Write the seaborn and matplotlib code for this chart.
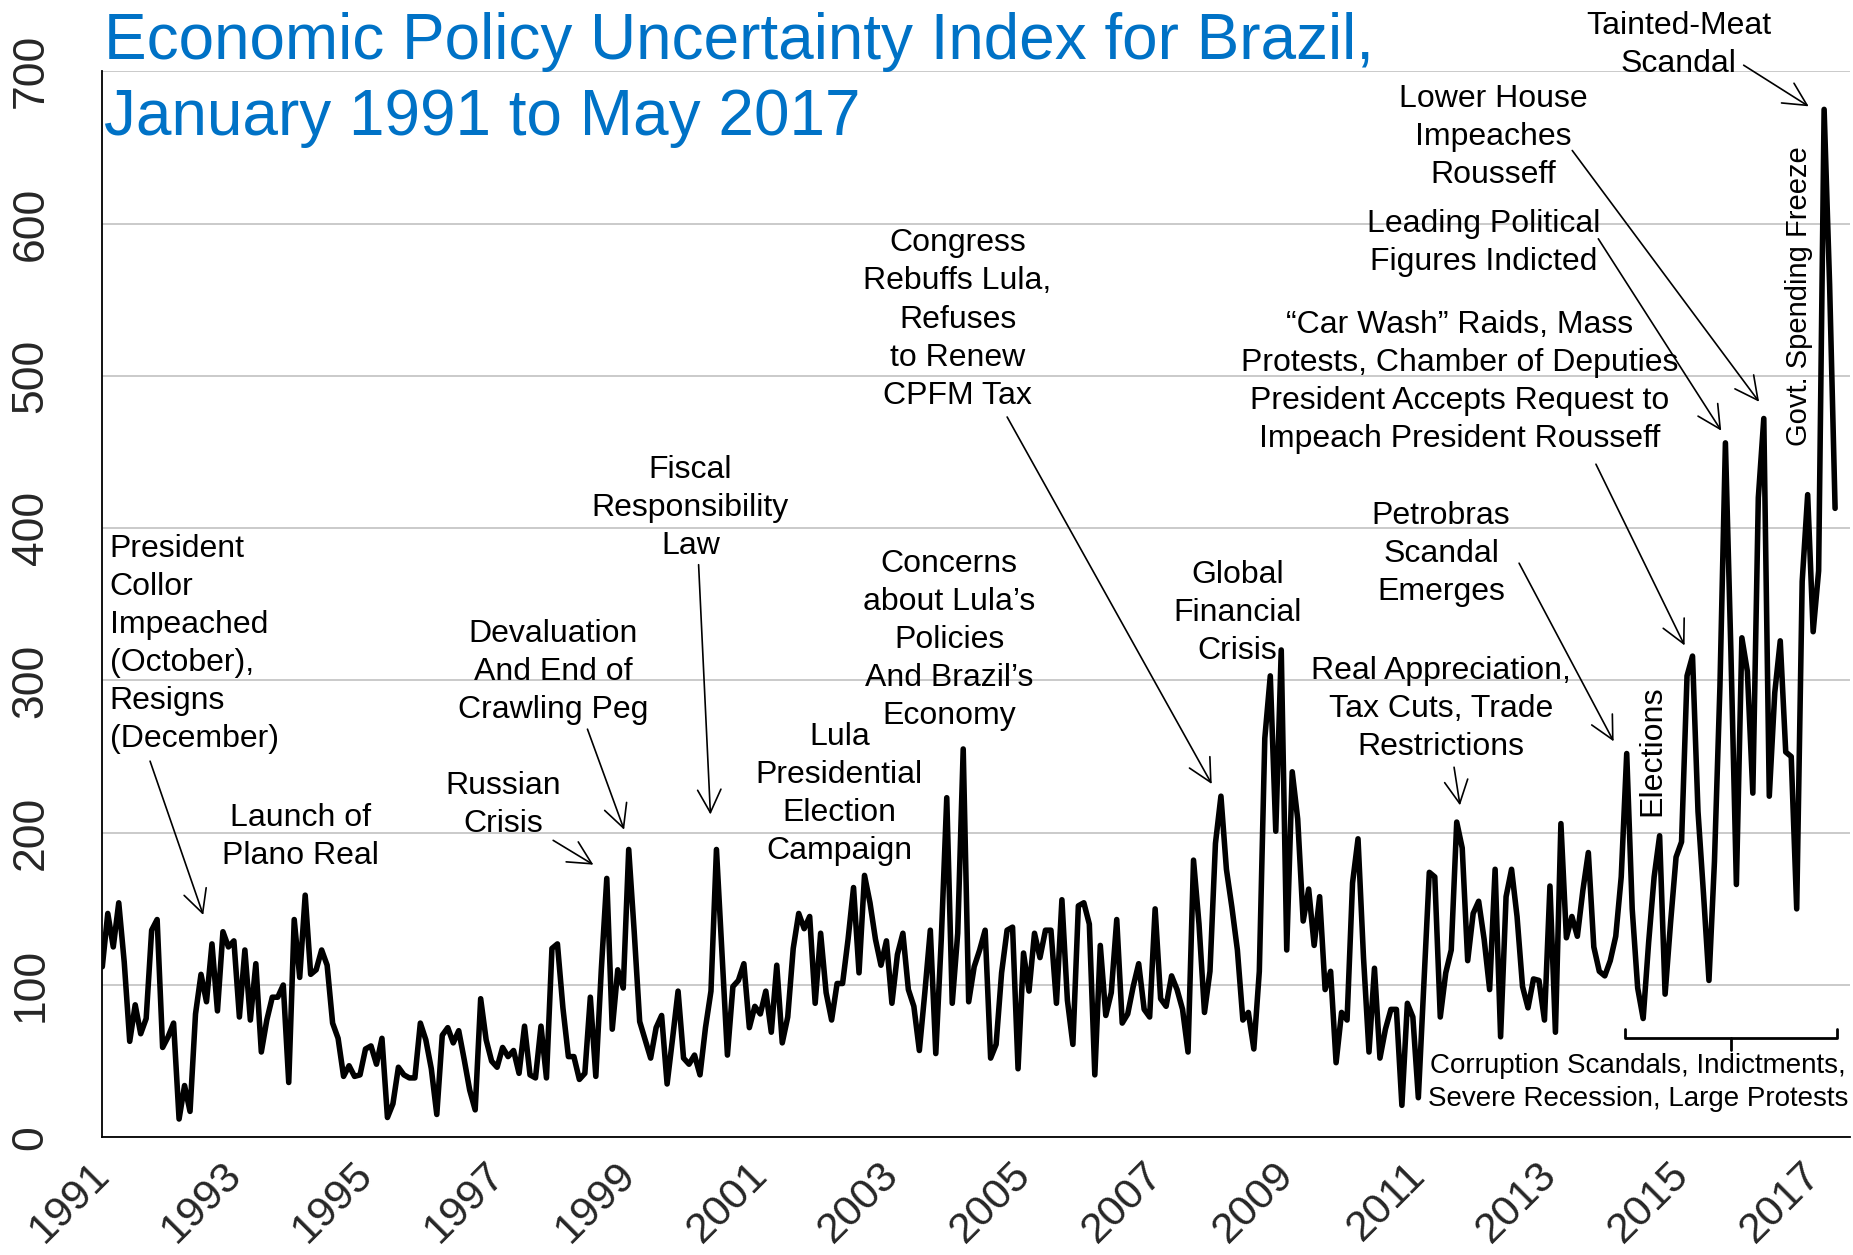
import numpy as np
import pandas as pd
import matplotlib
matplotlib.use("Agg")
import matplotlib.pyplot as plt
import seaborn as sns
from matplotlib import font_manager
from matplotlib.transforms import ScaledTranslation

# ---------------- data (monthly EPU index, Jan 1991 - May 2017) ----------------
v1991 = [112, 147, 125, 154, 115, 63, 87, 68, 78, 136, 143, 59]
v1992 = [66, 75, 12, 34, 17, 81, 107, 89, 127, 83, 135, 125]
v1993 = [129, 79, 123, 77, 114, 56, 77, 92, 92, 100, 36, 143]
v1994 = [105, 159, 107, 110, 123, 113, 75, 65, 40, 47, 40, 41]
v1995 = [58, 60, 48, 65, 13, 22, 46, 41, 39, 39, 75, 64]
v1996 = [45, 15, 67, 72, 62, 70, 51, 31, 18, 91, 64, 50]
v1997 = [46, 59, 53, 57, 42, 73, 41, 39, 73, 39, 124, 127]
v1998 = [85, 53, 53, 38, 42, 92, 40, 110, 170, 71, 110, 98]
v1999 = [189, 135, 76, 64, 52, 72, 80, 35, 65, 96, 52, 48]
v2000 = [54, 41, 72, 96, 189, 121, 54, 99, 103, 114, 72, 86]
v2001 = [81, 96, 69, 113, 62, 79, 124, 147, 137, 145, 88, 134]
v2002 = [95, 77, 101, 101, 130, 164, 108, 172, 154, 130, 113, 129]
v2003 = [88, 120, 134, 97, 86, 57, 95, 136, 55, 130, 223, 88]
v2004 = [134, 255, 89, 112, 123, 136, 52, 61, 108, 136, 138, 45]
v2005 = [121, 96, 134, 118, 136, 136, 88, 156, 90, 61, 152, 154]
v2006 = [140, 41, 126, 80, 95, 143, 75, 81, 99, 114, 84, 79]
v2007 = [150, 91, 86, 106, 97, 84, 56, 182, 140, 82, 109, 193]
v2008 = [224, 176, 151, 123, 77, 82, 58, 109, 262, 303, 201, 320]
v2009 = [123, 240, 209, 142, 163, 126, 158, 97, 109, 49, 82, 77]
v2010 = [167, 196, 118, 56, 111, 52, 71, 84, 84, 21, 88, 79]
v2011 = [26, 100, 174, 171, 79, 108, 123, 207, 190, 116, 147, 155]
v2012 = [130, 97, 176, 66, 158, 176, 145, 99, 85, 104, 103, 77]
v2013 = [165, 69, 206, 131, 145, 132, 162, 187, 125, 109, 106, 116]
v2014 = [132, 171, 252, 150, 98, 78, 128, 171, 198, 94, 141, 184]
v2015 = [194, 303, 316, 214, 160, 103, 181, 296, 456, 319, 166, 328]
v2016 = [306, 226, 420, 472, 224, 292, 326, 253, 250, 150, 365, 422]
v2017 = [332, 372, 675, 560, 413]

tick_years = [1991, 1993, 1995, 1997, 1999, 2001, 2003, 2005, 2007,
              2009, 2011, 2013, 2015, 2017]
y_ticks = [0, 100, 200, 300, 400, 500, 600, 700]

title_line1 = "Economic Policy Uncertainty Index for Brazil,"
title_line2 = "January 1991 to May 2017"

# ---------------- build table ----------------
values = (v1991 + v1992 + v1993 + v1994 + v1995 + v1996 + v1997 + v1998 +
          v1999 + v2000 + v2001 + v2002 + v2003 + v2004 + v2005 + v2006 +
          v2007 + v2008 + v2009 + v2010 + v2011 + v2012 + v2013 + v2014 +
          v2015 + v2016 + v2017)
df = pd.DataFrame({"date": 1991 + np.arange(len(values)) / 12.0,
                   "epu": values})

# ---------------- style ----------------
sns.set_style("white")
plt.rcParams["font.family"] = ["Liberation Sans", "DejaVu Sans"]
installed = {f.name for f in font_manager.fontManager.ttflist}
if "Liberation Sans Narrow" in installed:
    narrow_family = ["Liberation Sans Narrow", "Liberation Sans", "DejaVu Sans"]
    narrow_size = 25
else:
    narrow_family = ["Liberation Sans", "DejaVu Sans"]
    narrow_size = 21

W, H = 1853, 1255
fig = plt.figure(figsize=(W / 100, H / 100), dpi=100)
ax = fig.add_axes([102.3 / W, (H - 1137.3) / H, (1850 - 102.3) / W, (1137.3 - 71.3) / H])

sns.lineplot(data=df, x="date", y="epu", color="black", linewidth=4.0, ax=ax,
             zorder=3)

ax.set_xlim(1991, 2017.56)
ax.set_ylim(0, 700)
ax.set_xlabel("")
ax.set_ylabel("")

ax.set_xticks(tick_years)
ax.set_xticklabels([str(y) for y in tick_years], rotation=45, ha="right",
                   va="top", rotation_mode="anchor", fontsize=31)
ax.set_yticks(y_ticks)
ax.set_yticklabels([str(v) for v in y_ticks], rotation=90, va="center",
                   fontsize=32)
ax.tick_params(axis="x", length=9.5, width=1.2, pad=0, color="black")
ax.tick_params(axis="y", length=8.5, width=1.2, pad=28, color="black")
shift = ScaledTranslation(-13 / 100, -4 / 100, fig.dpi_scale_trans)
for lab in ax.get_xticklabels():
    lab.set_transform(lab.get_transform() + shift)

ax.yaxis.grid(True, color="#c6c6c6", linewidth=1.3, zorder=0)
ax.xaxis.grid(False)
ax.set_axisbelow(True)
for side in ["top", "right"]:
    ax.spines[side].set_visible(False)
for side in ["left", "bottom"]:
    ax.spines[side].set_color("black")
    ax.spines[side].set_linewidth(1.3)

# ---------------- title ----------------
blue = "#0072C6"
fig.text(104 / W, 1 - 59 / H, title_line1, color=blue, fontsize=46,
         ha="left", va="baseline")
fig.text(104 / W, 1 - 134.5 / H, title_line2, color=blue, fontsize=46,
         ha="left", va="baseline")

# ---------------- annotations ----------------
FS = 23
LS = 1.35


def label(x, y, s, ha="center", **kw):
    ax.text(x, y, s, ha=ha, va="center", fontsize=FS, linespacing=LS,
            color="black", clip_on=False, zorder=5, **kw)


def arrow(x0, y0, x1, y1):
    ax.annotate("", xy=(x1, y1), xytext=(x0, y0), annotation_clip=False,
                arrowprops=dict(arrowstyle="->,head_length=0.55,head_width=0.28",
                                color="black", lw=1.2, shrinkA=0, shrinkB=0,
                                mutation_scale=30), zorder=5)


label(1991.115, 324, "President\nCollor\nImpeached\n(October),\nResigns\n(December)", ha="left")
arrow(1991.726, 247, 1992.534, 146)

label(1994.008, 197, "Launch of\nPlano Real")

label(1997.098, 218.5, "Russian\nCrisis")
arrow(1997.852, 195, 1998.463, 179)

label(1997.852, 305.5, "Devaluation\nAnd End of\nCrawling Peg")
arrow(1998.373, 268, 1998.93, 202)

label(1999.937, 413, "Fiscal\nResponsibility\nLaw")
arrow(2000.062, 376, 2000.242, 212)

label(2002.2, 225.5, "Lula\nPresidential\nElection\nCampaign")

label(2003.871, 326.5, "Concerns\nabout Lula\u2019s\nPolicies\nAnd Brazil\u2019s\nEconomy")

label(2003.997, 537, "Congress\nRebuffs Lula,\nRefuses\nto Renew\nCPFM Tax")
arrow(2004.751, 473, 2007.86, 232)

label(2008.255, 344.5, "Global\nFinancial\nCrisis")

label(2011.345, 281.5, "Real Appreciation,\nTax Cuts, Trade\nRestrictions")
arrow(2011.543, 243, 2011.633, 218)

label(2011.345, 383, "Petrobras\nScandal\nEmerges")
arrow(2012.531, 377, 2013.968, 260)

label(2011.633, 496, "\u201cCar Wash\u201d Raids, Mass\nProtests, Chamber of Deputies\n"
      "President Accepts Request to\nImpeach President Rousseff")
arrow(2013.699, 442, 2015.046, 323)

label(2011.992, 587, "Leading Political\nFigures Indicted")
arrow(2013.735, 590, 2015.603, 464)

label(2012.135, 657, "Lower House\nImpeaches\nRousseff")
arrow(2013.339, 648, 2016.178, 483)

label(2014.956, 717.5, "Tainted-Meat\nScandal")
arrow(2015.944, 704, 2016.932, 677)

ax.text(2014.561, 254, "Elections", rotation=90, ha="center", va="center",
        fontsize=narrow_size * 1.1, family=narrow_family, color="black", zorder=5)
ax.text(2016.789, 552.5, "Govt. Spending Freeze", rotation=90, ha="center",
        va="center", fontsize=narrow_size, family=narrow_family, color="black",
        zorder=5)

# bracket for the corruption period
bx0, bx1, bxm = 2014.14, 2017.36, 2015.75
ax.plot([bx0, bx0, bx1, bx1], [71, 65, 65, 71], color="black", lw=2.0,
        solid_joinstyle="round", solid_capstyle="round", zorder=5)
ax.plot([bxm, bxm], [65, 57.5], color="black", lw=2.0, zorder=5)
ax.text(2014.34, 36, "Corruption Scandals, Indictments,\nSevere Recession, Large Protests",
        ha="center", va="center", fontsize=20, linespacing=LS, color="black",
        clip_on=False, zorder=5)

fig.savefig("out.png", dpi=100)
